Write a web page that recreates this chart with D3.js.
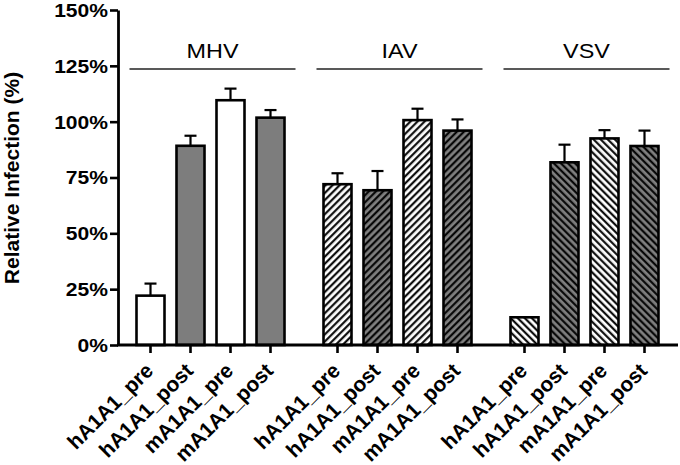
<!DOCTYPE html>
<html><head><meta charset="utf-8">
<script src="https://cdn.jsdelivr.net/npm/d3@7"></script>
<style>body{margin:0;background:#fff}text{font-family:"Liberation Sans",Arial,Helvetica,sans-serif}</style>
</head><body><svg id="c" width="680" height="465"></svg>
<script>
const groups = ["MHV", "IAV", "VSV"];
const conditions = ["hA1A1_pre", "hA1A1_post", "mA1A1_pre", "mA1A1_post"];
const mhvValues = [22.1, 89.2, 109.6, 101.8];
const mhvErrors = [5.4, 4.5, 5.2, 3.4];
const iavValues = [72.0, 69.3, 100.7, 96.0];
const iavErrors = [4.9, 8.6, 5.1, 5.0];
const vsvValues = [12.4, 81.8, 92.5, 89.1];
const vsvErrors = [0, 7.9, 3.7, 6.9];
const yTicks = [0, 25, 50, 75, 100, 125, 150];
const yTitle = "Relative Infection (%)";

const valuesByGroup = {MHV: mhvValues, IAV: iavValues, VSV: vsvValues};
const errorsByGroup = {MHV: mhvErrors, IAV: iavErrors, VSV: vsvErrors};

const SX = 1.17;
const svg = d3.select("#c");
const x0 = 118, yBase = 345, yTop = 10;

const defs = svg.append("defs");
function hatch(id, bg, angle) {
  const p = defs.append("pattern").attr("id", id).attr("patternUnits", "userSpaceOnUse")
    .attr("width", 5).attr("height", 5).attr("patternTransform", `rotate(${angle})`);
  p.append("rect").attr("width", 5).attr("height", 5).attr("fill", bg);
  p.append("line").attr("x1", 1.2).attr("x2", 1.2).attr("y1", 0).attr("y2", 5)
    .attr("stroke", "#000").attr("stroke-width", 2.1);
}
hatch("fwdWhite", "#fff", 45);
hatch("fwdGray", "#808080", 45);
hatch("backWhite", "#fff", -45);
hatch("backGray", "#808080", -45);
const fills = {
  MHV: ["#fff", "#7d7d7d", "#fff", "#7d7d7d"],
  IAV: ["url(#fwdWhite)", "url(#fwdGray)", "url(#fwdWhite)", "url(#fwdGray)"],
  VSV: ["url(#backWhite)", "url(#backGray)", "url(#backWhite)", "url(#backGray)"]
};

const y = d3.scaleLinear().domain([0, 150]).range([yBase, yTop]);
const xg = d3.scaleBand().domain(groups).range([117, 678]).paddingInner(0).paddingOuter(0);
const xs = d3.scaleBand().domain(conditions).range([0, xg.bandwidth()]).paddingInner(0.3).paddingOuter(0.4875);

const data = [];
groups.forEach(g => conditions.forEach((c, i) => data.push({g, c, i, v: valuesByGroup[g][i], e: errorsByGroup[g][i]})));

// error bars
const eb = svg.append("g").attr("stroke", "#000").attr("stroke-width", 2.2);
data.filter(d => d.e > 0).forEach(d => {
  const cx = xg(d.g) + xs(d.c) + xs.bandwidth() / 2;
  eb.append("line").attr("x1", cx).attr("x2", cx).attr("y1", y(d.v)).attr("y2", y(d.v + d.e));
  eb.append("line").attr("x1", cx - 6).attr("x2", cx + 6).attr("y1", y(d.v + d.e)).attr("y2", y(d.v + d.e));
});

svg.append("g").selectAll("rect").data(data).join("rect")
  .attr("x", d => xg(d.g) + xs(d.c))
  .attr("width", xs.bandwidth())
  .attr("y", d => y(d.v))
  .attr("height", d => y(0) - y(d.v))
  .attr("fill", d => fills[d.g][d.i])
  .attr("stroke", "#000").attr("stroke-width", 2.6);

// y axis
const ya = svg.append("g").attr("transform", `translate(${x0},0)`)
  .call(d3.axisLeft(y).tickValues(yTicks).tickFormat(d => d + "%").tickSize(8).tickSizeOuter(0));
ya.select(".domain").attr("stroke-width", 2.8);
ya.selectAll(".tick line").attr("stroke-width", 2.6);
ya.selectAll(".tick text").attr("font-size", 18).attr("font-weight", "bold").attr("fill", "#000")
  .attr("x", null).attr("dy", null)
  .attr("dominant-baseline", "central")
  .attr("transform", `translate(-10,0) scale(${SX},1)`);

// x axis line
svg.append("line").attr("x1", x0 - 1).attr("x2", xg.range()[1]).attr("y1", yBase).attr("y2", yBase)
  .attr("stroke", "#000").attr("stroke-width", 2.8);

// x ticks and labels
const xt = svg.append("g");
data.forEach(d => {
  const cx = xg(d.g) + xs(d.c) + xs.bandwidth() / 2;
  xt.append("line").attr("x1", cx).attr("x2", cx).attr("y1", yBase).attr("y2", yBase + 8)
    .attr("stroke", "#000").attr("stroke-width", 2.6);
  xt.append("text").text(d.c)
    .attr("text-anchor", "end")
    .attr("font-size", 21).attr("font-weight", "bold")
    .attr("transform", `translate(${cx + 4},${yBase + 27}) rotate(-45)`);
});

// group labels with lines
groups.forEach(g => {
  const c = xg(g) + xg.bandwidth() / 2 + 2;
  svg.append("line").attr("x1", c - 83).attr("x2", c + 83).attr("y1", 69).attr("y2", 69)
    .attr("stroke", "#222").attr("stroke-width", 1.4);
  svg.append("text").text(g).attr("text-anchor", "middle").attr("font-size", 20)
    .attr("transform", `translate(${c},58) scale(${SX},1)`);
});

// y title
svg.append("text").text(yTitle).attr("text-anchor", "middle").attr("font-size", 21)
  .attr("font-weight", "bold")
  .attr("transform", `translate(19,178) rotate(-90)`);
</script></body></html>
